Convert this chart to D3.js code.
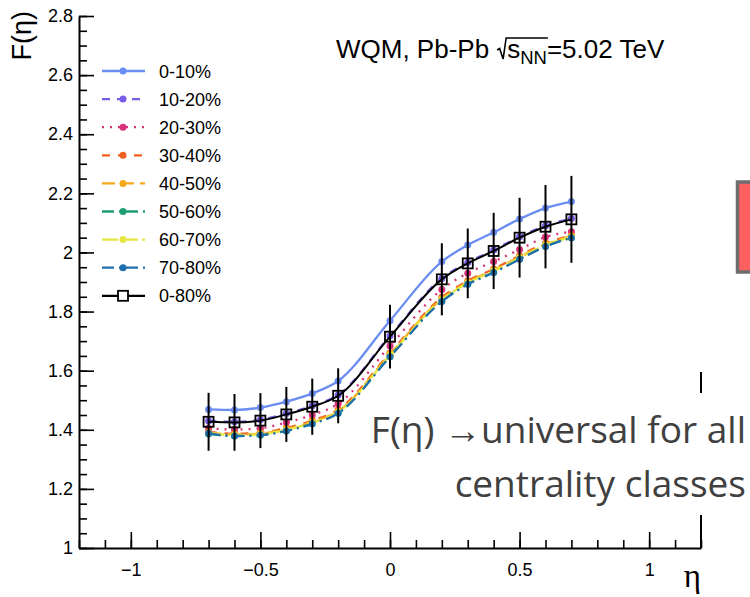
<!DOCTYPE html>
<html>
<head>
<meta charset="utf-8">
<script src="https://cdn.jsdelivr.net/npm/d3@7"></script>
<style>
body { margin: 0; background: #fff; }
text { font-family: "Liberation Sans", Arial, sans-serif; }
</style>
</head>
<body>
<script>

//Width and height
var width = 750;
var height = 597;

//Data: pseudorapidity points and F(eta) per centrality class
var eta = [-0.7, -0.6, -0.5, -0.4, -0.3, -0.2, 0, 0.2, 0.3, 0.4, 0.5, 0.6, 0.7];
var centLabels = ["0-10%", "10-20%", "20-30%", "30-40%", "40-50%", "50-60%", "60-70%", "70-80%", "0-80%"];

var f_0_10  = [1.469, 1.467, 1.475, 1.495, 1.523, 1.565, 1.769, 1.969, 2.025, 2.068, 2.113, 2.150, 2.172];
var f_10_20 = [1.430, 1.427, 1.434, 1.455, 1.481, 1.518, 1.718, 1.912, 1.966, 2.008, 2.053, 2.090, 2.115];
var f_20_30 = [1.405, 1.401, 1.405, 1.425, 1.450, 1.488, 1.684, 1.875, 1.930, 1.969, 2.010, 2.052, 2.070];
var f_30_40 = [1.393, 1.387, 1.390, 1.406, 1.431, 1.468, 1.660, 1.848, 1.904, 1.944, 1.989, 2.031, 2.058];
var f_40_50 = [1.390, 1.384, 1.387, 1.402, 1.427, 1.463, 1.656, 1.843, 1.900, 1.940, 1.985, 2.027, 2.055];
var f_50_60 = [1.386, 1.379, 1.382, 1.397, 1.421, 1.457, 1.649, 1.836, 1.893, 1.933, 1.978, 2.021, 2.050];
var f_60_70 = [1.389, 1.382, 1.385, 1.400, 1.424, 1.460, 1.652, 1.840, 1.897, 1.937, 1.982, 2.025, 2.053];
var f_70_80 = [1.388, 1.379, 1.382, 1.396, 1.420, 1.456, 1.647, 1.834, 1.892, 1.932, 1.977, 2.020, 2.050];
var f_0_80  = [1.427, 1.425, 1.431, 1.452, 1.478, 1.515, 1.715, 1.909, 1.963, 2.005, 2.050, 2.087, 2.112];
var err_0_80 = [0.098, 0.096, 0.093, 0.093, 0.095, 0.093, 0.108, 0.122, 0.118, 0.129, 0.135, 0.141, 0.147];

var xTicks = [-1, -0.5, 0, 0.5, 1];
var yTicks = [1, 1.2, 1.4, 1.6, 1.8, 2, 2.2, 2.4, 2.6, 2.8];

//Line styles for each class
var styles = [
    {color: "#6a8df2", dash: null},
    {color: "#7b5ce8", dash: "8,7"},
    {color: "#d9327a", dash: "2,6"},
    {color: "#f06020", dash: "8,8"},
    {color: "#f7a81c", dash: "13,6"},
    {color: "#1e9e70", dash: "12,5,2,5"},
    {color: "#e6e640", dash: "16,4"},
    {color: "#1f6fad", dash: "12,5,2,5"}
];
var classValues = [f_0_10, f_10_20, f_20_30, f_30_40, f_40_50, f_50_60, f_60_70, f_70_80];

//Scales
var x = d3.scaleLinear().domain([-1.2, 1.2]).range([79, 701]);
var y = d3.scaleLinear().domain([1, 2.8]).range([548, 16]);

//Create SVG element
var svg = d3.select("body")
            .append("svg")
            .attr("width", width)
            .attr("height", height);

svg.append("rect").attr("width", width).attr("height", height).attr("fill", "#fff");

//Axes (ROOT style: ticks inside)
var fmt = d3.format("~g");

svg.append("g")
   .attr("transform", "translate(0,548)")
   .call(d3.axisBottom(x).tickValues(d3.range(-1.2, 1.2001, 0.1)).tickSizeInner(-8).tickSizeOuter(0).tickFormat(""))
   .call(g => g.select(".domain").remove());
svg.append("g")
   .attr("transform", "translate(0,548)")
   .call(d3.axisBottom(x).tickValues(xTicks).tickSizeInner(-16).tickSizeOuter(0).tickPadding(15).tickFormat(fmt));

svg.append("g")
   .attr("transform", "translate(79,0)")
   .call(d3.axisLeft(y).tickValues(d3.range(1, 2.8001, 0.05)).tickSizeInner(-8).tickSizeOuter(0).tickFormat(""))
   .call(g => g.select(".domain").remove());
svg.append("g")
   .attr("transform", "translate(79,0)")
   .call(d3.axisLeft(y).tickValues(yTicks).tickSizeInner(-15).tickSizeOuter(0).tickPadding(6).tickFormat(fmt));

svg.selectAll(".tick line").attr("stroke", "#000").attr("stroke-width", 1.6);
svg.selectAll(".domain").attr("stroke", "#000").attr("stroke-width", 2);
svg.selectAll(".tick text").attr("fill", "#000").style("font-size", "18px").style("font-family", "Liberation Sans, Arial, sans-serif");

//Right frame
svg.append("line")
   .attr("x1", x(1.2)).attr("x2", x(1.2))
   .attr("y1", 372).attr("y2", y(1))
   .attr("stroke", "#000").attr("stroke-width", 2);

//Axis titles
svg.append("text")
   .attr("transform", "translate(31,11) rotate(-90)")
   .attr("text-anchor", "end")
   .style("font-size", "27px")
   .text("F(η)");

svg.append("text")
   .attr("x", 701).attr("y", 587)
   .attr("text-anchor", "end")
   .style("font-family", "Liberation Serif, serif")
   .style("font-size", "33px")
   .text("η");

//Curves
var line = d3.line()
             .x(d => x(d[0]))
             .y(d => y(d[1]))
             .curve(d3.curveMonotoneX);

classValues.forEach(function(vals, i) {
    var pts = eta.map((e, j) => [e, vals[j]]);
    svg.append("path")
       .attr("d", line(pts))
       .attr("fill", "none")
       .attr("stroke", styles[i].color)
       .attr("stroke-width", 2.3)
       .attr("stroke-dasharray", styles[i].dash);
    svg.append("g").selectAll("circle")
       .data(pts)
       .enter()
       .append("circle")
       .attr("cx", d => x(d[0]))
       .attr("cy", d => y(d[1]))
       .attr("r", 3.5)
       .attr("fill", styles[i].color);
});

//0-80% with error bars
var allPts = eta.map((e, j) => [e, f_0_80[j], err_0_80[j]]);

svg.append("g").selectAll("line")
   .data(allPts)
   .enter()
   .append("line")
   .attr("x1", d => x(d[0])).attr("x2", d => x(d[0]))
   .attr("y1", d => y(d[1] - d[2])).attr("y2", d => y(d[1] + d[2]))
   .attr("stroke", "#000").attr("stroke-width", 2);

svg.append("path")
   .attr("d", line(allPts))
   .attr("fill", "none")
   .attr("stroke", "#000")
   .attr("stroke-width", 2);

svg.append("g").selectAll("rect")
   .data(allPts)
   .enter()
   .append("rect")
   .attr("x", d => x(d[0]) - 5)
   .attr("y", d => y(d[1]) - 5)
   .attr("width", 10).attr("height", 10)
   .attr("fill", "none")
   .attr("stroke", "#000")
   .attr("stroke-width", 1.8);

//Legend
var legend = svg.append("g");
centLabels.forEach(function(lab, i) {
    var ly = 71 + i * 28.1;
    var st = i < 8 ? styles[i] : {color: "#000", dash: null};
    legend.append("line")
          .attr("x1", 102).attr("x2", 145)
          .attr("y1", ly).attr("y2", ly)
          .attr("stroke", st.color)
          .attr("stroke-width", 2.3)
          .attr("stroke-dasharray", st.dash);
    if (i < 8) {
        legend.append("circle").attr("cx", 123).attr("cy", ly).attr("r", 3.5).attr("fill", st.color);
    } else {
        legend.append("rect").attr("x", 118).attr("y", ly - 5).attr("width", 10).attr("height", 10)
              .attr("fill", "#fff").attr("stroke", "#000").attr("stroke-width", 1.8);
    }
    legend.append("text")
          .attr("x", 159).attr("y", ly + 6.5)
          .style("font-size", "18px")
          .text(lab);
});

//Header label with sqrt(s_NN)
var hx = 336, hy = 58;
var t1 = svg.append("text").attr("x", hx).attr("y", hy).style("font-size", "26px").text("WQM, Pb-Pb");
var w1 = t1.node().getComputedTextLength() + 8;
var rx = hx + w1;
var ts = svg.append("text").attr("x", rx + 10).attr("y", hy).style("font-size", "26px").text("s");
var ws = ts.node().getComputedTextLength();
var tn = svg.append("text").attr("x", rx + 10 + ws).attr("y", hy + 6).style("font-size", "18.5px").text("NN");
var wn = tn.node().getComputedTextLength();
svg.append("path")
   .attr("d", "M" + rx + "," + (hy - 8) + " L" + (rx + 2.5) + "," + (hy - 9.5) + " L" + (rx + 6) + "," + (hy + 1) +
              " L" + (rx + 9) + "," + (hy - 20) + " L" + (rx + 11 + ws + wn) + "," + (hy - 20))
   .attr("fill", "none").attr("stroke", "#000").attr("stroke-width", 1.6);
svg.append("text").attr("x", rx + 10 + ws + wn).attr("y", hy).style("font-size", "26px").text("=5.02 TeV");

//Slide annotation
svg.append("rect")
   .attr("x", 362).attr("y", 393).attr("width", 388).attr("height", 122)
   .attr("fill", "#fff");
svg.append("text")
   .attr("x", 746).attr("y", 443)
   .attr("text-anchor", "end")
   .style("font-family", "Open Sans, sans-serif")
   .style("font-size", "37px")
   .attr("fill", "#404040")
   .text("F(η) →universal for all");
svg.append("text")
   .attr("x", 746).attr("y", 497)
   .attr("text-anchor", "end")
   .style("font-family", "Open Sans, sans-serif")
   .style("font-size", "37px")
   .attr("fill", "#404040")
   .text("centrality classes");

//Red box at the right edge
svg.append("rect")
   .attr("x", 737.5).attr("y", 182).attr("width", 20).attr("height", 90)
   .attr("fill", "#ff5f5f")
   .attr("stroke", "#6e6e6e")
   .attr("stroke-width", 3.5);

</script>
</body>
</html>
